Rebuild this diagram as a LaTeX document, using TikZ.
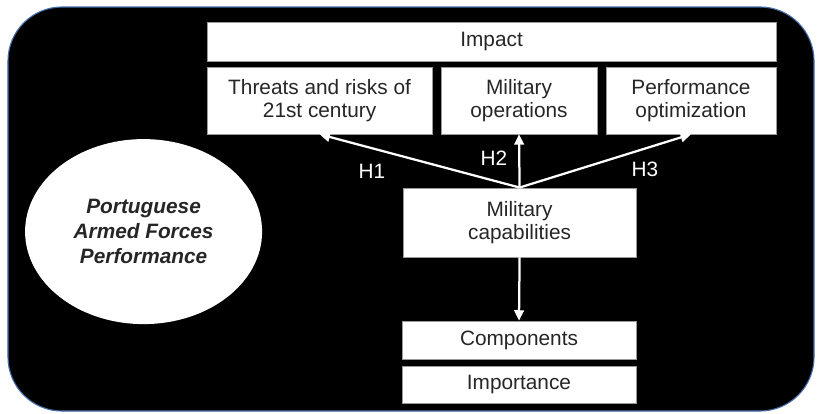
\documentclass[tikz,border=0pt]{standalone}
\usepackage{fontspec}
\setmainfont{Liberation Sans}
\usepackage{tikz}
\usetikzlibrary{arrows.meta,positioning,shapes.geometric,backgrounds}
\definecolor{panelrim}{RGB}{70,110,170}

\begin{document}
\begin{tikzpicture}[
  font=\fontsize{14.8}{16.4}\selectfont,
  every node/.style={align=center},
  box/.style={draw=black!40, fill=white, text=black!85, inner sep=0pt,
              line width=0.5pt},
  lbl/.style={text=white, inner sep=0pt},
  link/.style={-{Triangle[length=2.6mm,width=2.4mm]}, draw=white,
               line width=1.6pt},
]

\useasboundingbox (0,0) rectangle (20.425,-10.325);

% ---- background panel ----
\draw[fill=black, draw=panelrim, line width=0.8pt, rounded corners=1.35cm]
  (0.2,-0.175) rectangle (20.35,-10.275);

% ---- top row: impact ----
\node[box, minimum width=14.22cm, minimum height=0.975cm] (impact) at (12.29,-1.04)
  {Impact};
\node[box, minimum width=5.625cm, minimum height=1.675cm] (threats) at (7.99,-2.51)
  {Threats and risks of\\21st century};
\node[box, minimum width=3.9cm, minimum height=1.675cm] (ops) at (12.975,-2.51)
  {Military\\operations};
\node[box, minimum width=4.25cm, minimum height=1.675cm] (optim) at (17.275,-2.51)
  {Performance\\optimization};

% ---- centre and bottom ----
\node[box, minimum width=5.825cm, minimum height=1.725cm] (milcap) at (12.99,-5.56)
  {Military\\capabilities};
\node[box, minimum width=5.85cm, minimum height=0.95cm] (comp) at (12.975,-8.5)
  {Components};
\node[box, minimum width=5.85cm, minimum height=0.925cm] (imp) at (12.975,-9.61)
  {Importance};

% ---- left ellipse ----
\node[ellipse, fill=white, draw=none, inner sep=0pt, text=black!85,
      minimum width=5.925cm, minimum height=4.625cm,
      font=\fontsize{14.8}{17.6}\selectfont\bfseries\itshape]
  (pafp) at (3.59,-5.79) {Portuguese\\Armed Forces\\Performance};

% ---- hypotheses ----
\foreach \t in {threats, ops, optim}
  \draw[link] (milcap.north) -- (\t.south);
\draw[link] (milcap.south) -- (comp.north);

\node[lbl] (h1) at (9.3,-4.275)   {H1};
\node[lbl] (h2) at (12.35,-3.95)  {H2};
\node[lbl] (h3) at (16.125,-4.225) {H3};
\end{tikzpicture}
\end{document}
